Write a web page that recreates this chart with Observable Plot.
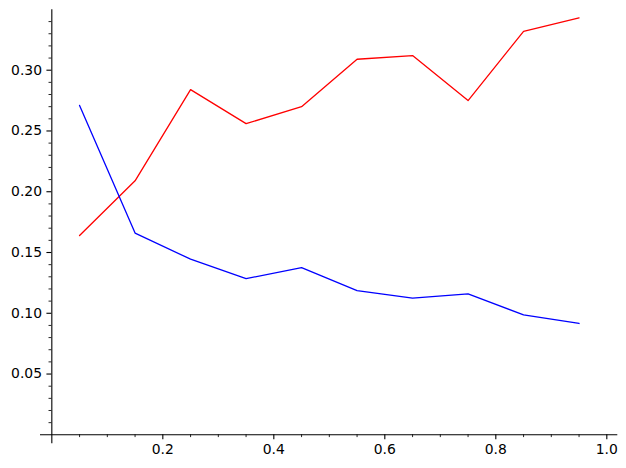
<!DOCTYPE html>
<html>
<head>
<meta charset="utf-8">
<script src="https://cdn.jsdelivr.net/npm/d3@7"></script>
<script src="https://cdn.jsdelivr.net/npm/@observablehq/plot@0.6"></script>
<style>
  html, body { margin: 0; padding: 0; background: #fff; }
</style>
</head>
<body>
<div id="chart"></div>
<script>
const xs = [0.05, 0.15, 0.25, 0.35, 0.45, 0.55, 0.65, 0.75, 0.85, 0.95];
const redValues = [0.164, 0.209, 0.284, 0.256, 0.270, 0.309, 0.312, 0.275, 0.332, 0.343];
const blueValues = [0.271, 0.166, 0.1445, 0.1285, 0.1375, 0.1187, 0.1124, 0.116, 0.0987, 0.0916];
const xMajorTicks = [0.2, 0.4, 0.6, 0.8, 1.0];
const xMinorTicks = [0.05, 0.1, 0.15, 0.25, 0.3, 0.35, 0.45, 0.5, 0.55, 0.65, 0.7, 0.75, 0.85, 0.9, 0.95];
const yMajorTicks = [0.05, 0.10, 0.15, 0.20, 0.25, 0.30];
const yMinorTicks = [0.01, 0.02, 0.03, 0.04, 0.06, 0.07, 0.08, 0.09, 0.11, 0.12, 0.13, 0.14,
  0.16, 0.17, 0.18, 0.19, 0.21, 0.22, 0.23, 0.24, 0.26, 0.27, 0.28, 0.29, 0.31, 0.32, 0.33, 0.34];

const redData = xs.map((x, i) => ({x, y: redValues[i]}));
const blueData = xs.map((x, i) => ({x, y: blueValues[i]}));

const W = 626, H = 468;
const mL = 40, mR = 8.7, mT = 9.3, mB = 24.7;
const xDomain = [-0.0204, 1.0198];
const yDomain = [-0.0074, 0.3497];

// offsets so the axes cross at the origin (derived from the same linear scales)
const xs_ = d3.scaleLinear(xDomain, [mL, W - mR]);
const ys_ = d3.scaleLinear(yDomain, [H - mB, mT]);
const dyX = ys_(0) - (H - mB);
const dxY = xs_(0) - mL;

const chart = Plot.plot({
  width: W,
  height: H,
  marginLeft: mL,
  marginRight: mR,
  marginTop: mT,
  marginBottom: mB,
  style: {fontFamily: "'DejaVu Sans', sans-serif", fontSize: "13.9px", color: "#000", background: "#fff", overflow: "visible"},
  x: {domain: xDomain},
  y: {domain: yDomain},
  marks: [
    Plot.ruleY([0], {stroke: "#000", strokeWidth: 1.1}),
    Plot.ruleX([0], {stroke: "#000", strokeWidth: 1.1}),
    Plot.axisX(xMajorTicks, {anchor: "bottom", dy: dyX, tickSize: 4.9, tickPadding: 4.9, strokeWidth: 1.1, tickFormat: d3.format(".1f"), label: null, fontSize: 13.9}),
    Plot.axisX(xMinorTicks, {anchor: "bottom", dy: dyX, tickSize: 2.8, strokeWidth: 0.85, tickFormat: () => "", label: null}),
    Plot.axisY(yMajorTicks, {anchor: "left", dx: dxY, tickSize: 4.9, tickPadding: 4.9, strokeWidth: 1.1, tickFormat: d3.format(".2f"), label: null, fontSize: 13.9}),
    Plot.axisY(yMinorTicks, {anchor: "left", dx: dxY, tickSize: 2.8, strokeWidth: 0.85, tickFormat: () => "", label: null}),
    Plot.line(redData, {x: "x", y: "y", stroke: "#ff0000", strokeWidth: 1.3}),
    Plot.line(blueData, {x: "x", y: "y", stroke: "#0000ff", strokeWidth: 1.3})
  ]
});
document.getElementById("chart").appendChild(chart);
</script>
</body>
</html>
